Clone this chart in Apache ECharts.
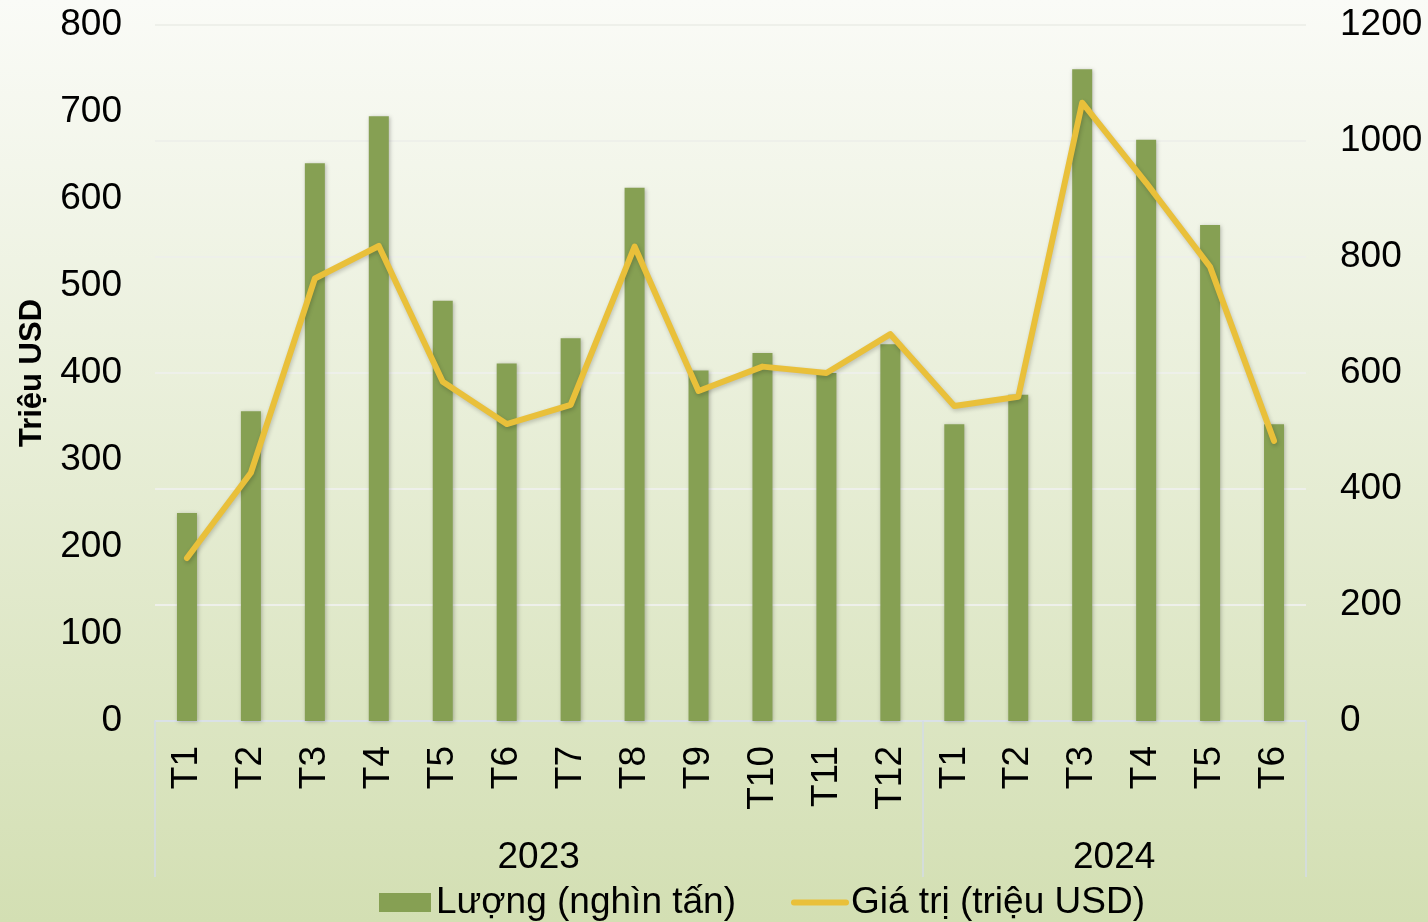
<!DOCTYPE html>
<html>
<head>
<meta charset="utf-8">
<script src="https://cdn.jsdelivr.net/npm/echarts@6/dist/echarts.min.js"></script>
<style>
html,body{margin:0;padding:0;width:1428px;height:922px;overflow:hidden;}
#chart{width:1428px;height:922px;}
</style>
</head>
<body>
<div id="chart"></div>
<script>
// ---- Data ----
const months = ['T1','T2','T3','T4','T5','T6','T7','T8','T9','T10','T11','T12','T1','T2','T3','T4','T5','T6'];
const years = ['2023','2024'];
const yearSpans = [12, 6];
const volume = [239, 356, 641, 695, 483, 411, 440, 613, 403, 423, 400, 433, 341, 375, 749, 668, 570, 341];
const value = [281, 428, 763, 819, 585, 512, 545, 818, 569, 611, 600, 667, 543, 559, 1066, 928, 783, 483];
const seriesNames = ['Lượng (nghìn tấn)', 'Giá trị (triệu USD)'];
const leftTicks = {min: 0, max: 800, interval: 100};
const rightTicks = {min: 0, max: 1200, interval: 200};

// group boundaries and midpoints derived from spans
const boundaries = [0];
const mids = [];
yearSpans.forEach((s, i) => { mids.push(boundaries[i] + s / 2); boundaries.push(boundaries[i] + s); });

const FONT = 'Liberation Sans, Arial, sans-serif';
const FS = 37;
const chart = echarts.init(document.getElementById('chart'), null, {renderer: 'canvas'});
const axisColor = '#d3dce6';
const lineColor = '#e9c03a';

chart.setOption({
  backgroundColor: {
    type: 'linear', x: 0, y: 0, x2: 0, y2: 1,
    colorStops: [{offset: 0, color: '#fafbf7'}, {offset: 1, color: '#d3dfb3'}]
  },
  textStyle: {fontFamily: FONT},
  animation: false,
  grid: {left: 155, right: 122, top: 25, bottom: 201, containLabel: false, outerBoundsMode: 'none'},
  legend: {
    top: 884, left: 379, padding: 0,
    itemWidth: 52, itemHeight: 19, itemGap: 55,
    textStyle: {fontSize: FS, color: '#000', fontFamily: FONT},
    data: [
      {name: seriesNames[0], icon: 'rect'},
      {name: seriesNames[1], itemStyle: {opacity: 0}, lineStyle: {width: 6, cap: 'round', color: lineColor}}
    ]
  },
  xAxis: [
    {
      type: 'category', data: months, position: 'bottom',
      axisLine: {show: true, lineStyle: {color: axisColor, width: 1.5}},
      axisTick: {show: true, length: 156, interval: (i) => boundaries.indexOf(i) >= 0, lineStyle: {color: axisColor, width: 1.5}},
      axisLabel: {interval: 0, rotate: 90, fontSize: FS, color: '#000', margin: 25, fontFamily: FONT}
    },
    {
      type: 'value', min: 0, max: months.length, position: 'bottom', offset: 110,
      axisLine: {show: false}, axisTick: {show: false}, splitLine: {show: false},
      axisLabel: {
        customValues: mids, fontSize: FS, color: '#000', margin: 8, fontFamily: FONT,
        formatter: (v) => { const k = mids.indexOf(v); return k >= 0 ? years[k] : ''; }
      }
    }
  ],
  yAxis: [
    {
      type: 'value', position: 'left', min: leftTicks.min, max: leftTicks.max, interval: leftTicks.interval,
      axisLine: {show: false}, axisTick: {show: false}, splitLine: {show: false},
      axisLabel: {fontSize: FS, color: '#000', margin: 33, fontFamily: FONT, formatter: (v) => String(v)},
      name: 'Triệu USD', nameLocation: 'middle', nameGap: 107, nameRotate: 90,
      nameTextStyle: {fontSize: 31, fontWeight: 'bold', color: '#000', fontFamily: FONT}
    },
    {
      type: 'value', position: 'right', min: rightTicks.min, max: rightTicks.max, interval: rightTicks.interval,
      axisLine: {show: false}, axisTick: {show: false},
      splitLine: {show: true, lineStyle: {color: '#eef0ea', width: 2}},
      axisLabel: {fontSize: FS, color: '#000', margin: 34, fontFamily: FONT, formatter: (v) => String(v)}
    }
  ],
  series: [
    {
      name: seriesNames[0], type: 'bar', data: volume, xAxisIndex: 0, yAxisIndex: 0,
      barWidth: 20,
      itemStyle: {color: '#86a053', shadowColor: 'rgba(0,0,0,0.25)', shadowBlur: 4, shadowOffsetX: 1, shadowOffsetY: 1}
    },
    {
      name: seriesNames[1], type: 'line', data: value, xAxisIndex: 0, yAxisIndex: 1,
      symbol: 'none', showSymbol: false,
      lineStyle: {color: lineColor, width: 6, cap: 'round', join: 'round', shadowColor: 'rgba(0,0,0,0.2)', shadowBlur: 4, shadowOffsetX: 1, shadowOffsetY: 2},
      itemStyle: {color: lineColor}
    }
  ]
});
</script>
</body>
</html>
